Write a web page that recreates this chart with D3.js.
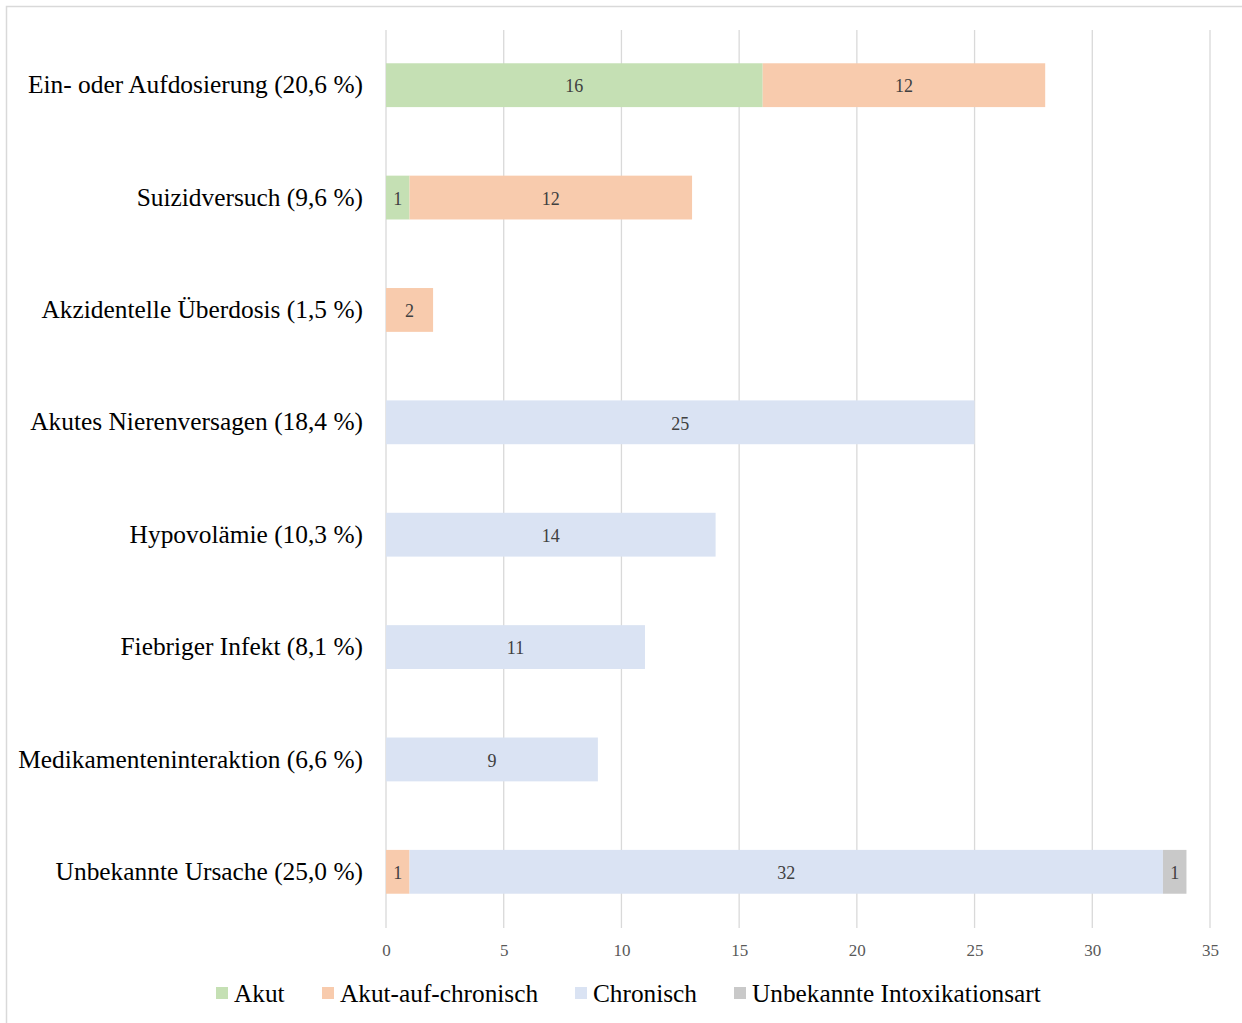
<!DOCTYPE html>
<html><head><meta charset="utf-8">
<script src="https://cdn.jsdelivr.net/npm/d3@7"></script>
<style>body{margin:0;background:#fff;} svg{display:block;}</style>
</head><body>
<script>
const categories = ["Ein- oder Aufdosierung (20,6 %)","Suizidversuch (9,6 %)","Akzidentelle Überdosis (1,5 %)","Akutes Nierenversagen (18,4 %)","Hypovolämie (10,3 %)","Fiebriger Infekt (8,1 %)","Medikamenteninteraktion (6,6 %)","Unbekannte Ursache (25,0 %)"];
const seriesNames = ["Akut","Akut-auf-chronisch","Chronisch","Unbekannte Intoxikationsart"];
const akut = [16,1,0,0,0,0,0,0];
const akutAufChronisch = [12,12,2,0,0,0,0,1];
const chronisch = [0,0,0,25,14,11,9,32];
const unbekannt = [0,0,0,0,0,0,0,1];
const xTicks = [0,5,10,15,20,25,30,35];
const colors = ["#c5e0b4","#f8cbad","#dae3f3","#c9c9c9"];

const W=1242,H=1023;
const svg=d3.select("body").append("svg").attr("width",W).attr("height",H);
svg.append("rect").attr("x",6.5).attr("y",6.5).attr("width",1300).attr("height",1100)
  .attr("fill","#fff").attr("stroke","#d9d9d9").attr("stroke-width",1.5);

const font="'Liberation Serif','Times New Roman',serif";
const x=d3.scaleLinear().domain([0,35]).range([386,1210]);
const y=d3.scaleBand().domain(categories).range([29,928]).paddingInner(0.61).paddingOuter(0.305);

const rows=categories.map((c,i)=>({cat:c,s0:akut[i],s1:akutAufChronisch[i],s2:chronisch[i],s3:unbekannt[i]}));
const stack=d3.stack().keys(["s0","s1","s2","s3"])(rows);

// gridlines
svg.append("g").selectAll("line").data(xTicks).join("line")
  .attr("x1",d=>x(d)).attr("x2",d=>x(d)).attr("y1",30).attr("y2",928)
  .attr("stroke","#d9d9d9").attr("stroke-width",1.3);

// x axis
const xa=svg.append("g").attr("transform","translate(0,928)")
  .call(d3.axisBottom(x).tickValues(xTicks).tickSize(0).tickPadding(16));
xa.select(".domain").remove();
xa.selectAll("text").attr("font-family",font).attr("font-size",17).attr("fill","#595959");

// bars
stack.forEach((layer,k)=>{
  const g=svg.append("g");
  g.selectAll("rect").data(layer.filter(d=>d[1]-d[0]>0)).join("rect")
    .attr("x",d=>x(d[0])).attr("width",d=>x(d[1])-x(d[0]))
    .attr("y",d=>y(d.data.cat)).attr("height",y.bandwidth())
    .attr("fill",colors[k]);
  g.selectAll("text").data(layer.filter(d=>d[1]-d[0]>0)).join("text")
    .attr("x",d=>(x(d[0])+x(d[1]))/2).attr("y",d=>y(d.data.cat)+y.bandwidth()/2+1)
    .attr("dy","0.35em").attr("text-anchor","middle")
    .attr("font-family",font).attr("font-size",18).attr("fill","#404040")
    .text(d=>d[1]-d[0]);
});

// y labels
const ya=svg.append("g").attr("transform","translate(386,0)")
  .call(d3.axisLeft(y).tickSize(0).tickPadding(23));
ya.select(".domain").remove();
ya.selectAll("text").attr("font-family",font).attr("font-size",25.4).attr("fill","#000");

// legend
const legX=[216,322,575,734];
const lg=svg.append("g");
seriesNames.forEach((n,i)=>{
  lg.append("rect").attr("x",legX[i]).attr("y",987).attr("width",12).attr("height",12).attr("fill",colors[i]);
  lg.append("text").attr("x",legX[i]+18).attr("y",993).attr("dy","0.35em")
    .attr("font-family",font).attr("font-size",25.3).attr("fill","#000").text(n);
});
</script>
</body></html>
